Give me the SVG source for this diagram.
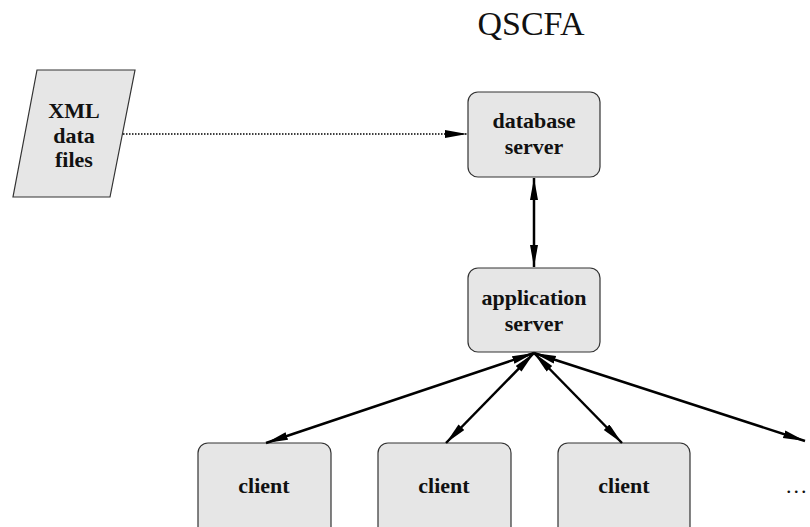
<svg xmlns="http://www.w3.org/2000/svg" width="810" height="527" viewBox="0 0 810 527">
<style>
.box{fill:#e6e6e6;stroke:#333;stroke-width:1.2}
.lbl{font-family:"Liberation Serif",serif;font-weight:bold;font-size:22px;fill:#111;text-anchor:middle}
.title{font-family:"Liberation Serif",serif;font-size:34px;fill:#111;text-anchor:middle}
.arr{stroke:#000;stroke-width:2.5;fill:none;marker-end:url(#ah);marker-start:url(#ah)}
.dot{stroke:#000;stroke-width:1.5;stroke-dasharray:1.5 1.5;fill:none;marker-end:url(#ah)}
</style>
<defs>
<marker id="ah" markerUnits="userSpaceOnUse" markerWidth="24" markerHeight="10" refX="22" refY="4" orient="auto-start-reverse">
<path d="M0,0 L22,4 L0,8 z" fill="#000"/>
</marker>
</defs>
<rect width="810" height="527" fill="#fff"/>
<text class="title" x="531" y="35">QSCFA</text>
<g id="xml">
<polygon class="box" points="37,70 135,70 110,197 13,197"/>
<text class="lbl" x="74" y="118">XML</text>
<text class="lbl" x="74" y="143">data</text>
<text class="lbl" x="74" y="167">files</text>
</g>
<g id="db">
<rect class="box" x="468" y="92" width="132" height="85" rx="10"/>
<text class="lbl" x="534" y="128">database</text>
<text class="lbl" x="534" y="154">server</text>
</g>
<g id="app">
<rect class="box" x="468" y="268" width="132" height="84" rx="10"/>
<text class="lbl" x="534" y="305">application</text>
<text class="lbl" x="534" y="331">server</text>
</g>
<g id="client1">
<rect class="box" x="198" y="443" width="133" height="100" rx="10"/>
<text class="lbl" x="264" y="493">client</text>
</g>
<g id="client2">
<rect class="box" x="378" y="443" width="133" height="100" rx="10"/>
<text class="lbl" x="444" y="493">client</text>
</g>
<g id="client3">
<rect class="box" x="558" y="443" width="132" height="100" rx="10"/>
<text class="lbl" x="624" y="493">client</text>
</g>
<g id="more">
<text x="786" y="493" style="font-family:'Liberation Serif',serif;font-size:22px;letter-spacing:2px;fill:#111">...</text>
</g>
<g id="connectors">
<line class="dot" x1="123" y1="134" x2="467" y2="134"/>
<line class="arr" x1="534" y1="178" x2="534" y2="267"/>
<line class="arr" x1="534" y1="353" x2="266" y2="443"/>
<line class="arr" x1="534" y1="353" x2="446" y2="443"/>
<line class="arr" x1="534" y1="353" x2="622" y2="443"/>
<line class="arr" x1="534" y1="353" x2="805" y2="441"/>
</g>
</svg>
